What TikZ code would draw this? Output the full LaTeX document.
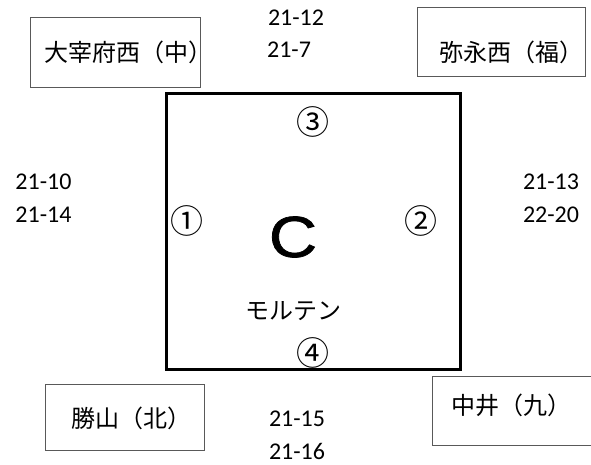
\documentclass[tikz,border=0pt]{standalone}
\usepackage{fontspec}
\setmainfont{Carlito}
\newfontfamily\jpfont{Noto Sans CJK JP}
\newfontfamily\arialfont[FakeBold=1.2]{Liberation Sans}
\begin{document}
\begin{tikzpicture}[x=1pt,y=-1pt,
  thinbox/.style={draw=black!65, line width=1pt},
  mainbox/.style={draw=black, line width=3pt},
  jplabel/.style={font=\jpfont\fontsize{24}{24}\selectfont, inner sep=0pt, anchor=west},
  numlabel/.style={font=\fontsize{24}{24}\selectfont, inner sep=0pt},
  circnum/.style={font=\jpfont\fontsize{33}{33}\selectfont, inner sep=0pt}]
\useasboundingbox (0,0) rectangle (591,464);
% boxes
\draw[thinbox] (30,17) rectangle (200,87);
\draw[thinbox] (417,7) rectangle (585,76);
\draw[thinbox] (45,384) rectangle (204,450);
\draw[thinbox] (600,376) -- (432,376) -- (432,445) -- (600,445);
\draw[mainbox] (166,93) rectangle (460,369);
% box labels
\node[jplabel] (dazaifu) at (44,52) {大宰府西（中）};
\node[jplabel] (yanaga) at (439,52) {弥永西（福）};
\node[jplabel] (katsuyama) at (71,418) {勝山（北）};
\node[jplabel] (nakai) at (451,405) {中井（九）};
% numbers
\node[numlabel] (n1) at (296,17.5) {21-12};
\node[numlabel] (n2) at (289,49.5) {21-7};
\node[numlabel] (n3) at (43.5,182) {21-10};
\node[numlabel] (n4) at (43.5,215) {21-14};
\node[numlabel] (n5) at (551,182) {21-13};
\node[numlabel] (n6) at (551,215) {22-20};
\node[numlabel] (n7) at (297,419) {21-15};
\node[numlabel] (n8) at (297,451) {21-16};
% inside main box
\node[circnum] (c3) at (313,122) {③};
\node[circnum] (c1) at (187,221) {①};
\node[circnum] (c2) at (421,221) {②};
\node[circnum] (c4) at (313,353) {④};
\node[font=\arialfont\fontsize{58}{58}\selectfont, inner sep=0pt] (C) at (293,237) {\scalebox{1.15}[1]{C}};
\node[font=\jpfont\fontsize{24}{24}\selectfont, inner sep=0pt] (molten) at (293,311) {モルテン};
\end{tikzpicture}
\end{document}
